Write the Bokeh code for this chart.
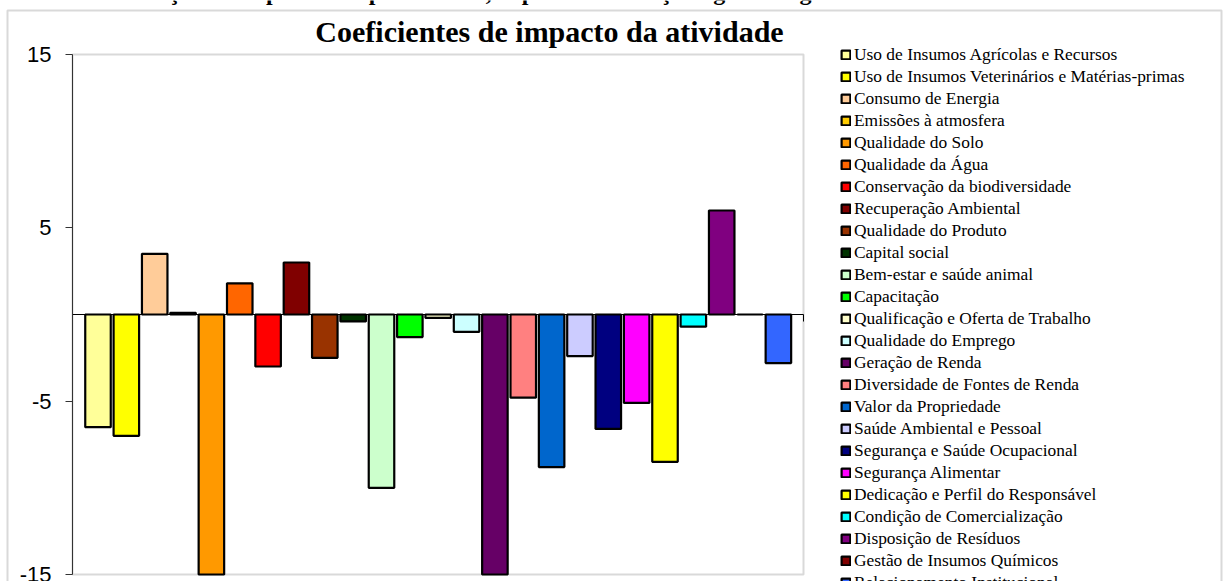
from bokeh.plotting import figure
from bokeh.models import (ColumnDataSource, Range1d, FixedTicker, Label,
                          BoxAnnotation, PrintfTickFormatter, CustomJSTickFormatter)
from bokeh.embed import file_html
from bokeh.resources import INLINE

categories = [
    "Uso de Insumos Agrícolas e Recursos",
    "Uso de Insumos Veterinários e Matérias-primas",
    "Consumo de Energia",
    "Emissões à atmosfera",
    "Qualidade do Solo",
    "Qualidade da Água",
    "Conservação da biodiversidade",
    "Recuperação Ambiental",
    "Qualidade do Produto",
    "Capital social",
    "Bem-estar e saúde animal",
    "Capacitação",
    "Qualificação e Oferta de Trabalho",
    "Qualidade do Emprego",
    "Geração de Renda",
    "Diversidade de Fontes de Renda",
    "Valor da Propriedade",
    "Saúde Ambiental e Pessoal",
    "Segurança e Saúde Ocupacional",
    "Segurança Alimentar",
    "Dedicação e Perfil do Responsável",
    "Condição de Comercialização",
    "Disposição de Resíduos",
    "Gestão de Insumos Químicos",
    "Relacionamento Institucional",
]
values = [-6.5, -7.0, 3.5, 0.1, -15.0, 1.8, -3.0, 3.0, -2.5, -0.4, -10.0, -1.3,
          -0.2, -1.0, -15.0, -4.8, -8.8, -2.4, -6.6, -5.1, -8.5, -0.7, 6.0, 0.0, -2.8]
colors = ["#FFFF99", "#FFFF00", "#FFCC99", "#FFCC00", "#FF9900", "#FF6600",
          "#FF0000", "#800000", "#993300", "#003300", "#CCFFCC", "#00FF00",
          "#FFFFCC", "#CCFFFF", "#660066", "#FF8080", "#0066CC", "#CCCCFF",
          "#000080", "#FF00FF", "#FFFF00", "#00FFFF", "#800080", "#800000",
          "#3366FF"]
y_ticks = [-15, -5, 5, 15]
y_min, y_max = -15, 15

title_text = "Coeficientes de impacto da atividade"
top_text = "Gráfico – Avaliação de impactos do produtor II, depois da transição agroecológica"

W, H = 1227, 581
# pixel layout of the plot area inside the canvas
PA_LEFT, PA_RIGHT, PA_TOP, PA_BOTTOM = 72, 803, 54, 574
n = len(categories)
pitch = 28.35
first_center = 97.5
x_start = -first_center / pitch
x_lo = x_start + PA_LEFT / pitch
x_hi = x_start + PA_RIGHT / pitch
ppu = (PA_BOTTOM - PA_TOP) / (y_max - y_min)
zero_px = PA_TOP + y_max * ppu
y_top = zero_px / ppu


def px_x(px):
    return x_start + px / pitch


def px_y(py):
    return y_top - py / ppu


src = ColumnDataSource(dict(x=list(range(n)), top=values, color=colors, cat=categories))

p = figure(width=W, height=H, output_backend="svg", toolbar_location=None,
           x_range=Range1d(x_start, px_x(W)),
           y_range=Range1d(px_y(H), y_top),
           min_border=0, min_border_left=0, min_border_right=0,
           min_border_top=0, min_border_bottom=0)
p.background_fill_color = "white"
p.border_fill_color = "white"
p.outline_line_color = None
p.xgrid.visible = False
p.ygrid.visible = False

# outer chart border (bottom edge lies just below the visible page)
p.add_layout(BoxAnnotation(left=px_x(7), right=px_x(1221), top=px_y(10), bottom=px_y(H + 3),
                           fill_alpha=0, line_color="#808080", line_width=2,
                           level="underlay"))

# plot-area frame (Excel style gray border)
p.add_layout(BoxAnnotation(left=x_lo, right=x_hi, top=y_max, bottom=y_min,
                           fill_alpha=0, line_color="#808080", line_width=2,
                           level="underlay"))

# value axis
ya = p.yaxis[0]
ya.fixed_location = x_lo
ya.bounds = (y_min, y_max)
ya.ticker = FixedTicker(ticks=y_ticks)
ya.formatter = PrintfTickFormatter(format="%d")
ya.minor_tick_line_color = None
ya.major_tick_out = 7
ya.major_tick_in = 0
ya.axis_line_color = "#333333"
ya.major_tick_line_color = "#333333"
ya.major_label_standoff = 14
ya.major_label_text_font = "Liberation Sans"
ya.major_label_text_font_size = "22px"
ya.major_label_text_color = "black"

# category axis crossing at zero
xa = p.xaxis[0]
xa.fixed_location = 0
xa.bounds = (x_lo, x_hi)
xa.ticker = FixedTicker(ticks=[x_lo, x_hi])
xa.formatter = CustomJSTickFormatter(code="return ''")
xa.minor_tick_line_color = None
xa.major_tick_out = 7
xa.major_tick_in = 0
xa.axis_line_color = "black"
xa.major_tick_line_color = "black"

p.vbar(x="x", top="top", bottom=0, width=0.9, source=src,
       fill_color="color", line_color="black", line_width=2.2,
       legend_field="cat")

leg = p.legend[0]
leg.location = (840, -12)
leg.margin = 0
leg.padding = 0
leg.border_line_color = None
leg.background_fill_alpha = 0
leg.glyph_width = 11
leg.glyph_height = 11
leg.label_height = 21
leg.spacing = 1
leg.label_standoff = 3
leg.label_text_font = "Liberation Serif"
leg.label_text_font_size = "17.4px"
leg.label_text_color = "black"

p.add_layout(Label(x=549, y=H - 31, x_units="screen", y_units="screen",
                   text=title_text, text_align="center", text_baseline="alphabetic",
                   text_font="Liberation Serif", text_font_style="bold",
                   text_font_size="30px", text_color="black"))
p.add_layout(Label(x=2, y=H + 9, x_units="screen", y_units="screen",
                   text=top_text, text_align="left", text_baseline="alphabetic",
                   text_font="Liberation Serif", text_font_style="bold",
                   text_font_size="24px", text_color="black"))

open("out.html", "w").write(file_html(p, INLINE))
